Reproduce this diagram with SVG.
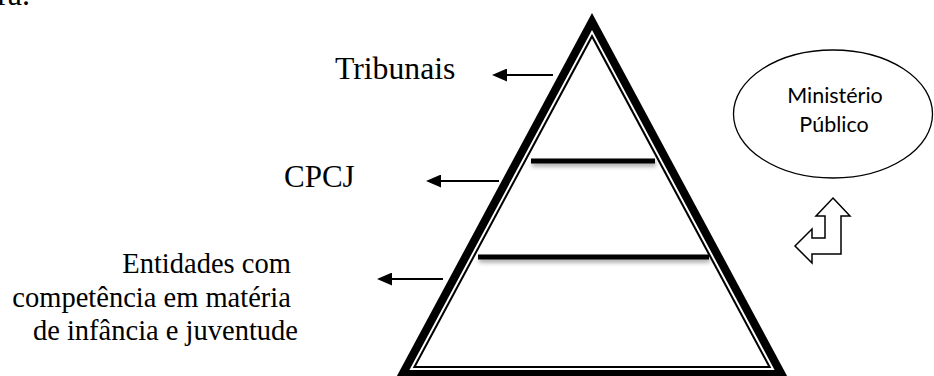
<svg xmlns="http://www.w3.org/2000/svg" width="934" height="376" viewBox="0 0 934 376">
<style>
.serif{font-family:"Liberation Serif","Times New Roman",serif;fill:#000}
.sans{font-family:Lato,"Open Sans",sans-serif;fill:#000}
.conn{stroke:#000;stroke-width:2;fill:none}
.bar{fill:#000;filter:url(#shadow)}
</style>
<defs>
<marker id="head" markerUnits="userSpaceOnUse" viewBox="0 0 15 13" refX="0" refY="6.5" markerWidth="15" markerHeight="13" orient="auto">
<path d="M0,0 L15,6.5 L0,13 z" fill="#000"/>
</marker>
<filter id="shadow" x="-10%" y="-200%" width="120%" height="500%">
<feDropShadow dx="1" dy="3" stdDeviation="2" flood-color="#000" flood-opacity="0.35"/>
</filter>
</defs>
<rect width="934" height="376" fill="#fff"/>
<text class="serif" x="30" y="5" font-size="32" text-anchor="end">ra.</text>
<g id="pyramid">
<polygon points="592,13 384,400 800,400" fill="#000"/>
<polygon points="592,29.9 409.4,370 774.6,370" fill="#fff"/>
<polygon points="592,34.1 412.7,368 771.3,368" fill="#000"/>
<polygon points="592,38.4 416.1,366 767.9,366" fill="#fff"/>
<rect class="bar" x="531" y="158.5" width="124" height="5"/>
<rect class="bar" x="478" y="254.5" width="231" height="5"/>
</g>
<g id="tribunais">
<text class="serif" x="335" y="79" font-size="31.7">Tribunais</text>
</g>
<g id="cpcj">
<text class="serif" x="284" y="187" font-size="31">CPCJ</text>
</g>
<g id="entidades">
<text class="serif" font-size="28.5" text-anchor="end">
<tspan x="298" y="273">Entidades com</tspan>
<tspan x="298" y="306.5">competência em matéria</tspan>
<tspan x="298" y="340">de infância e juventude</tspan>
</text>
</g>
<g id="ministerio">
<ellipse cx="833" cy="114" rx="99.5" ry="64" fill="#fff" stroke="#000" stroke-width="1.3"/>
<text class="sans" x="835" y="103.3" font-size="21.5" text-anchor="middle">Ministério</text>
<text class="sans" x="834" y="131.7" font-size="21.5" text-anchor="middle">Público</text>
</g>
<g id="bent-arrow">
<polygon points="833,198 850,216 841,216 841,254 812,254 812,263 795,246 812,229 812,238 825,238 825,216 816,216" fill="#fff" stroke="#000" stroke-width="1.5" stroke-linejoin="miter"/>
</g>
<g id="connectors">
<line class="conn" x1="553" y1="75" x2="507" y2="75" marker-end="url(#head)"/>
<line class="conn" x1="499" y1="181" x2="441" y2="181" marker-end="url(#head)"/>
<line class="conn" x1="443" y1="279" x2="392" y2="279" marker-end="url(#head)"/>
</g>
</svg>
